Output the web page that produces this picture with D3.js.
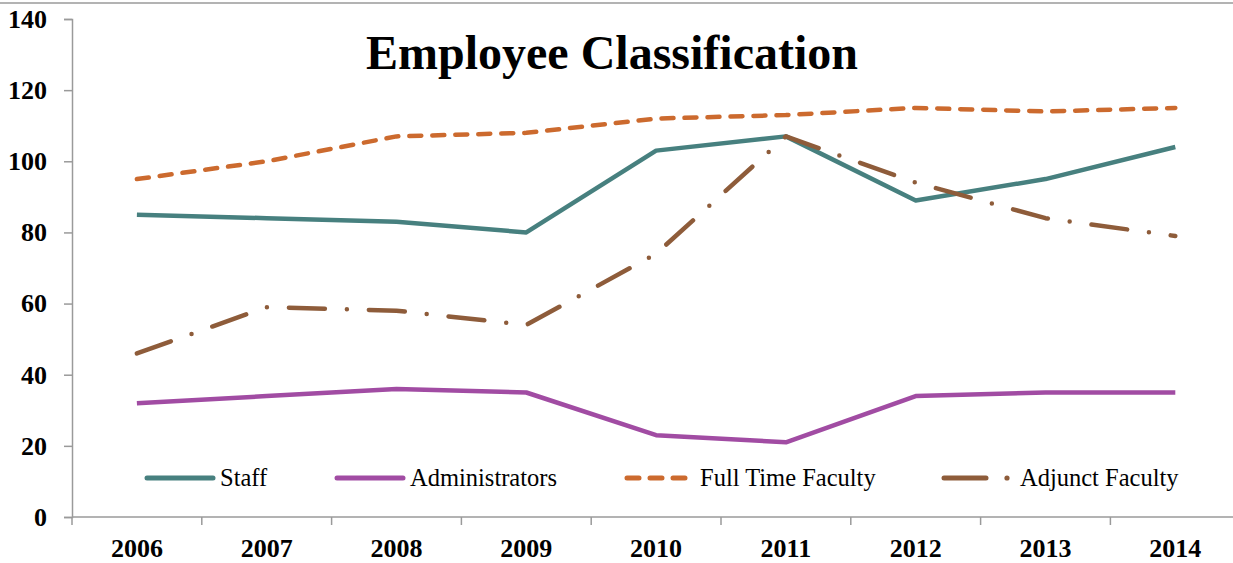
<!DOCTYPE html>
<html>
<head>
<meta charset="utf-8">
<script src="https://cdn.jsdelivr.net/npm/d3@7"></script>
<style>
  body { margin: 0; background: #fff; }
  svg { display: block; font-family: "Liberation Serif", "Times New Roman", serif; }
</style>
</head>
<body>
<svg id="chart" width="1233" height="563"></svg>
<script>
var years = ["2006", "2007", "2008", "2009", "2010", "2011", "2012", "2013", "2014"];
var staff = [85, 84, 83, 80, 103, 107, 89, 95, 104];
var administrators = [32, 34, 36, 35, 23, 21, 34, 35, 35];
var fullTimeFaculty = [95, 100, 107, 108, 112, 113, 115, 114, 115];
var adjunctFaculty = [46, 59, 58, 54, 74, 107, 94, 84, 79];
var yTicks = [0, 20, 40, 60, 80, 100, 120, 140];
var seriesNames = ["Staff", "Administrators", "Full Time Faculty", "Adjunct Faculty"];

var svg = d3.select("#chart");

var plotLeft = 72, plotTop = 19, plotBottom = 517, step = 129.8;

var x = d3.scaleBand().domain(years).range([plotLeft, plotLeft + step * years.length]);
var y = d3.scaleLinear().domain([0, 140]).range([plotBottom, plotTop]);

// top border
svg.append("line")
    .attr("x1", 0).attr("x2", 1233).attr("y1", 3).attr("y2", 3)
    .attr("stroke", "#9a9a9a").attr("stroke-width", 1.5);

// y axis
var yAxis = svg.append("g")
    .attr("transform", "translate(" + plotLeft + ",0)")
    .call(d3.axisLeft(y).tickValues(yTicks).tickSize(8).tickPadding(17));
yAxis.select(".domain").attr("stroke", "#9a9a9a").attr("stroke-width", 1.5);
yAxis.selectAll(".tick line").attr("stroke", "#9a9a9a").attr("stroke-width", 1.5);
yAxis.selectAll("text")
    .attr("font-family", "Liberation Serif")
    .attr("font-size", 26).attr("font-weight", "bold").attr("fill", "#000")
    .attr("dy", "0.32em");

// x axis
var xAxis = svg.append("g")
    .attr("transform", "translate(0," + plotBottom + ")");
xAxis.append("line")
    .attr("x1", plotLeft).attr("x2", plotLeft + step * years.length)
    .attr("stroke", "#9a9a9a").attr("stroke-width", 1.5);
xAxis.selectAll(".xtick")
    .data(years)
    .enter().append("line")
    .attr("x1", function(d) { return x(d); })
    .attr("x2", function(d) { return x(d); })
    .attr("y1", 0).attr("y2", 8)
    .attr("stroke", "#9a9a9a").attr("stroke-width", 1.5);
xAxis.selectAll(".xlabel")
    .data(years)
    .enter().append("text")
    .attr("x", function(d) { return x(d) + x.bandwidth() / 2; })
    .attr("y", 40)
    .attr("text-anchor", "middle")
    .attr("font-size", 26).attr("font-weight", "bold")
    .text(function(d) { return d; });

// title
svg.append("text")
    .attr("x", 612).attr("y", 69)
    .attr("text-anchor", "middle")
    .attr("font-size", 48).attr("font-weight", "bold")
    .text("Employee Classification");

var series = [
    { name: seriesNames[0], values: staff, color: "#47807f", dash: null },
    { name: seriesNames[1], values: administrators, color: "#a14ca3", dash: null },
    { name: seriesNames[2], values: fullTimeFaculty, color: "#cc6a2e", dash: "12,11" },
    { name: seriesNames[3], values: adjunctFaculty, color: "#8e5c3a", dash: "36,22,0,22" }
];

var line = d3.line()
    .x(function(d, i) { return x(years[i]) + x.bandwidth() / 2; })
    .y(function(d) { return y(d); });

series.forEach(function(s) {
    svg.append("path")
        .datum(s.values)
        .attr("d", line)
        .attr("fill", "none")
        .attr("stroke", s.color)
        .attr("stroke-width", 4.5)
        .attr("stroke-linejoin", "round")
        .attr("stroke-linecap", s.dash ? "round" : "butt")
        .attr("stroke-dasharray", s.dash);
});

// legend
var legendX = [145, 335, 625, 942];
var legendY = 478;
series.forEach(function(s, i) {
    var g = svg.append("g").attr("transform", "translate(" + legendX[i] + "," + legendY + ")");
    if (i === 3) {
        g.append("line").attr("x1", 2).attr("x2", 44).attr("y1", 0).attr("y2", 0)
            .attr("stroke", s.color).attr("stroke-width", 5).attr("stroke-linecap", "round");
        g.append("circle").attr("cx", 65).attr("cy", 0).attr("r", 2.6).attr("fill", s.color);
        g.append("text").attr("x", 78).attr("y", 8).attr("font-size", 24.5).text(s.name);
    } else {
        g.append("line").attr("x1", 2).attr("x2", 68).attr("y1", 0).attr("y2", 0)
            .attr("stroke", s.color).attr("stroke-width", 5).attr("stroke-linecap", "round")
            .attr("stroke-dasharray", s.dash);
        g.append("text").attr("x", 75).attr("y", 8).attr("font-size", 24.5).text(s.name);
    }
});
</script>
</body>
</html>
